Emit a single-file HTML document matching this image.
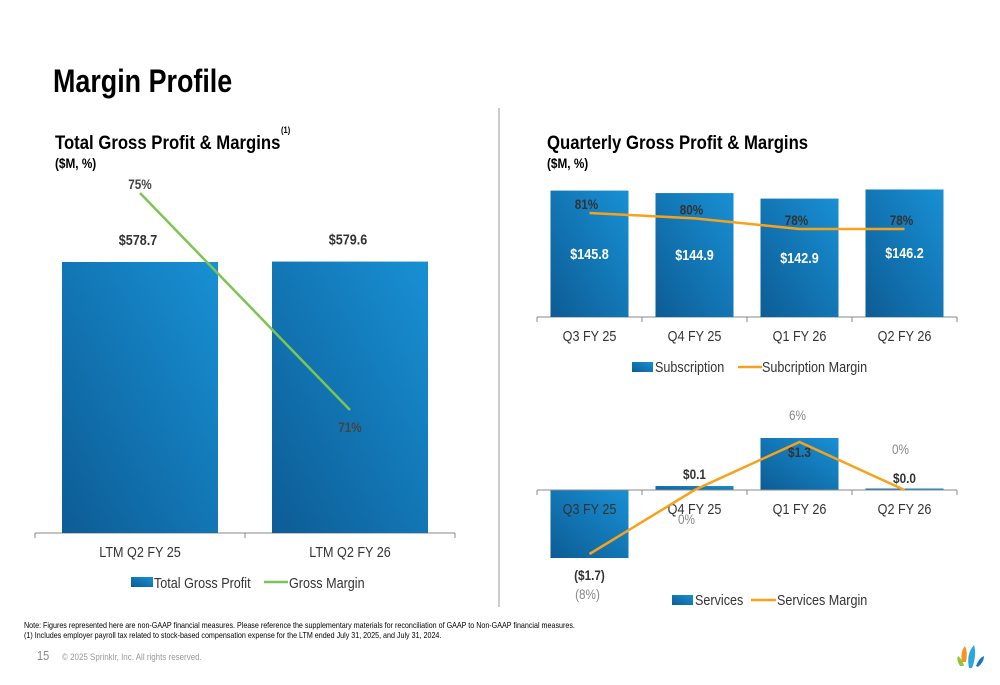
<!DOCTYPE html>
<html><head><meta charset="utf-8">
<style>
html,body{margin:0;padding:0;background:#fff;}
svg{display:block;font-family:"Liberation Sans Narrow","Liberation Sans",sans-serif;}
</style></head>
<body>
<svg id="s" width="1000" height="685" viewBox="0 0 1000 685" xmlns="http://www.w3.org/2000/svg">
<defs>
<linearGradient id="bg" x1="0" y1="1" x2="1" y2="0">
<stop offset="0" stop-color="#0d5c95"/><stop offset="1" stop-color="#1890d4"/>
</linearGradient>
</defs>
<text x="53" y="92" font-size="32" font-weight="bold" fill="#000">Margin Profile</text>
<text x="55" y="149" font-size="19" font-weight="bold" class="ct">Total Gross Profit &amp; Margins</text>
<text x="281" y="133" font-size="9" font-weight="bold">(1)</text>
<text x="55" y="168" font-size="14" font-weight="bold">($M, %)</text>
<text x="547" y="149" font-size="19" font-weight="bold" class="ct">Quarterly Gross Profit &amp; Margins</text>
<text x="547" y="168" font-size="14" font-weight="bold">($M, %)</text>
<line x1="499" y1="108" x2="499" y2="607" stroke="#999" stroke-width="1"/>
<g id="left"></g>
<g id="top"></g>
<g id="bot"></g>
<text x="24" y="628" font-size="8.5" font-family="Liberation Sans, sans-serif">Note: Figures represented here are non-GAAP financial measures. Please reference the supplementary materials for reconciliation of GAAP to Non-GAAP financial measures.</text>
<text x="24" y="638" font-size="8.5" font-family="Liberation Sans, sans-serif">(1) Includes employer payroll tax related to stock-based compensation expense for the LTM ended July 31, 2025, and July 31, 2024.</text>
<text x="37" y="660" font-size="13" fill="#888">15</text>
<text x="62" y="660" font-size="9.5" fill="#999" font-family="Liberation Sans, sans-serif">© 2025 Sprinklr, Inc. All rights reserved.</text>
<g>
<path d="M962 662 Q960 652 965 646 Q968 652 966 662 Z" fill="#f7941d"/>
<path d="M969 668 Q966 654 974 645 Q977 655 972 668 Z" fill="#29a8e0"/>
<path d="M960 666 Q956 660 958 656 Q963 660 964 666 Z" fill="#8dc63f"/>
<path d="M976 666 Q979 658 984 656 Q984 662 978 667 Z" fill="#1c75bc"/>
</g>
<script>
const ltmCats=["LTM Q2 FY 25","LTM Q2 FY 26"];
const ltmProfit=[578.7,579.6];
const ltmMargin=[75,71];
const qCats=["Q3 FY 25","Q4 FY 25","Q1 FY 26","Q2 FY 26"];
const subValues=[145.8,144.9,142.9,146.2];
const subMargin=[81,80,78,78];
const svcValues=[-1.7,0.1,1.3,0.0];
const svcMargin=[-8,0,6,0];
const svcValueLabels=["($1.7)","$0.1","$1.3","$0.0"];
const svcMarginLabels=["(8%)","0%","6%","0%"];

const NS="http://www.w3.org/2000/svg";
function mk(p,tag,a,txt){const e=document.createElementNS(NS,tag);for(const k in a)e.setAttribute(k,a[k]);if(txt!==undefined)e.textContent=txt;p.appendChild(e);return e;}
function fmt(v){return "$"+v.toFixed(1);}

// LEFT
(function(){
const g=document.getElementById('left');
const x0=35,x1=455,base=533,band=(x1-x0)/ltmCats.length,bw=156;
const y=v=>base-v*0.4683;
const ym=m=>193+(75-m)*54.25;
const cx=i=>x0+band*(i+0.5);
let l=mk(g,'line',{x1:x0,y1:base,x2:x1,y2:base,stroke:'#888'});


for(let i=0;i<=ltmCats.length;i++){mk(g,'line',{x1:x0+band*i,y1:base,x2:x0+band*i,y2:base+5,stroke:'#888'});}
ltmProfit.forEach((v,i)=>{
 const r=mk(g,'rect',{x:cx(i)-bw/2,y:y(v),width:bw,height:base-y(v),fill:'url(#bg)'});
 
 
 const t=mk(g,'text',{x:cx(i)-2,y:y(v)-17,'font-size':15,'font-weight':'bold','text-anchor':'middle',fill:'#333'},fmt(v));
 
 
 const xl=mk(g,'text',{x:cx(i),y:base+24,'font-size':15,'text-anchor':'middle',fill:'#333'},ltmCats[i]);
 
 
});
const pts=ltmMargin.map((m,i)=>(cx(i))+','+ym(m)).join(' ');
const pl=mk(g,'polyline',{points:pts,fill:'none',stroke:'#7dc552','stroke-width':2.5});


ltmMargin.forEach((m,i)=>{
 const t=mk(g,'text',{x:cx(i),y:i==0?ym(m)-4:ym(m)+22,'font-size':14,'font-weight':'bold','text-anchor':'middle',fill:'#444'},m+'%');
 
 
});
const lg=mk(g,'g',{});


mk(lg,'rect',{x:131,y:577,width:22,height:10,fill:'url(#bg)'});
mk(lg,'text',{x:154,y:588,'font-size':15,fill:'#333'},'Total Gross Profit');
mk(lg,'line',{x1:264,y1:582,x2:288,y2:582,stroke:'#7dc552','stroke-width':2.5});
mk(lg,'text',{x:289,y:588,'font-size':15,fill:'#333'},'Gross Margin');
})();

// TOP RIGHT
(function(){
const g=document.getElementById('top');
const x0=537,x1=957,base=317,band=(x1-x0)/qCats.length,bw=78;
const y=v=>base-(v-100)*2.76;
const ym=m=>213+(81-m)*5.33;
const cx=i=>x0+band*(i+0.5);
let l=mk(g,'line',{x1:x0,y1:base,x2:x1,y2:base,stroke:'#888'});


for(let i=0;i<=qCats.length;i++){mk(g,'line',{x1:x0+band*i,y1:base,x2:x0+band*i,y2:base+5,stroke:'#888'});}
subValues.forEach((v,i)=>{
 const r=mk(g,'rect',{x:cx(i)-bw/2,y:y(v),width:bw,height:base-y(v),fill:'url(#bg)'});
 
 
 const t=mk(g,'text',{x:cx(i),y:(y(v)+base)/2+5,'font-size':15,'font-weight':'bold','text-anchor':'middle',fill:'#fff'},fmt(v));
 
 
 const xl=mk(g,'text',{x:cx(i),y:base+24,'font-size':15,'text-anchor':'middle',fill:'#333'},qCats[i]);
 
 
});
const pl=mk(g,'polyline',{points:subMargin.map((m,i)=>cx(i)+','+ym(m)).join(' '),fill:'none',stroke:'#f7a21b','stroke-width':2.5});


subMargin.forEach((m,i)=>{
 const t=mk(g,'text',{x:cx(i)-3,y:ym(m)-4,'font-size':14,'font-weight':'bold','text-anchor':'middle',fill:'#333'},m+'%');
 
 
});
const lg=mk(g,'g',{});


mk(lg,'rect',{x:632,y:362,width:21,height:10,fill:'url(#bg)'});
mk(lg,'text',{x:655,y:372,'font-size':15,fill:'#333'},'Subscription');
mk(lg,'line',{x1:738,y1:367,x2:762,y2:367,stroke:'#f7a21b','stroke-width':2.5});
mk(lg,'text',{x:762,y:372,'font-size':15,fill:'#333'},'Subcription Margin');
})();

// BOTTOM RIGHT
(function(){
const g=document.getElementById('bot');
const x0=537,x1=957,base=490,band=(x1-x0)/qCats.length,bw=78;
const y=v=>base-v*40;
const ym=m=>base-m*8;
const cx=i=>x0+band*(i+0.5);
svcValues.forEach((v,i)=>{
 const h=Math.max(Math.abs(y(v)-base),1.5);
 const r=mk(g,'rect',{x:cx(i)-bw/2,y:v>=0?base-h:base,width:bw,height:h,fill:'url(#bg)'});
 
 
});
let l=mk(g,'line',{x1:x0,y1:base,x2:x1,y2:base,stroke:'#888'});


for(let i=0;i<=qCats.length;i++){mk(g,'line',{x1:x0+band*i,y1:base,x2:x0+band*i,y2:base+5,stroke:'#888'});}
qCats.forEach((c,i)=>{
 const xl=mk(g,'text',{x:cx(i),y:base+24,'font-size':15,'text-anchor':'middle',fill:'#333'},c);
 
 
});
const pl=mk(g,'polyline',{points:svcMargin.map((m,i)=>cx(i)+','+ym(m)).join(' '),fill:'none',stroke:'#f7a21b','stroke-width':2.5});


svcValues.forEach((v,i)=>{
 let ty;
 if(v<0) ty=y(v)+22; else if(v>=1) ty=y(v)+19; else ty=y(v)-7;
 const t=mk(g,'text',{x:cx(i),y:ty,'font-size':14,'font-weight':'bold','text-anchor':'middle',fill:'#333'},svcValueLabels[i]);
 
 
});
const mOff=[45,34,-22,-36];
svcMargin.forEach((m,i)=>{
 const t=mk(g,'text',{x:cx(i)-(i==1?8:i==3?4:2),y:ym(m)+mOff[i],'font-size':14,'text-anchor':'middle',fill:'#888'},svcMarginLabels[i]);
 
 
});
const lg=mk(g,'g',{});


mk(lg,'rect',{x:672,y:595,width:21,height:10,fill:'url(#bg)'});
mk(lg,'text',{x:695,y:605,'font-size':15,fill:'#333'},'Services');
mk(lg,'line',{x1:751,y1:600,x2:776,y2:600,stroke:'#f7a21b','stroke-width':2.5});
mk(lg,'text',{x:777,y:605,'font-size':15,fill:'#333'},'Services Margin');
})();

// condense all text horizontally to mimic a narrow font
document.querySelectorAll('#s text').forEach(t=>{
 const w=t.getComputedTextLength();
 const f=t.classList.contains('ct')?0.88:0.84;
 if(w>0){t.setAttribute('textLength',(w*f).toFixed(1));t.setAttribute('lengthAdjust','spacingAndGlyphs');}
});
</script>
</svg>
</body></html>
